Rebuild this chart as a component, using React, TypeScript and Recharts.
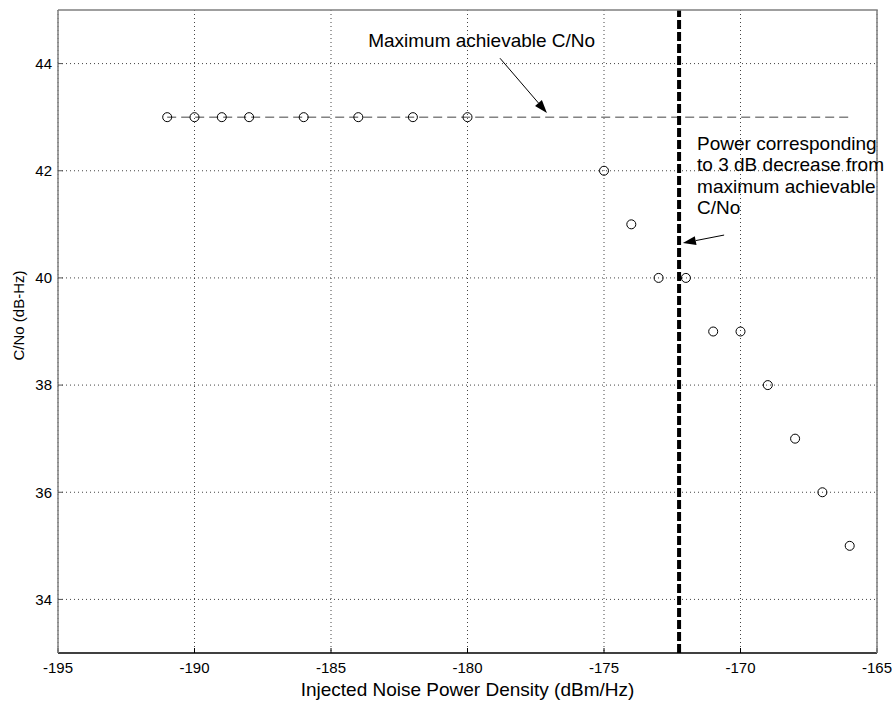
import React from 'react';
import {
  ScatterChart,
  Scatter,
  XAxis,
  YAxis,
  CartesianGrid,
  ReferenceLine,
  ReferenceDot,
} from 'recharts';

// ---------- data ----------
const xTicks = [-195, -190, -185, -180, -175, -170, -165];
const yTicks = [34, 36, 38, 40, 42, 44];
const xDomain = [-195, -165];
const yDomain = [33, 45];

const noiseDensity = [-191, -190, -189, -188, -186, -184, -182, -180, -175, -174, -173, -172, -171, -170, -169, -168, -167, -166];
const cnoValues = [43, 43, 43, 43, 43, 43, 43, 43, 42, 41, 40, 40, 39, 39, 38, 37, 36, 35];

const maxCNo = 43;
const maxLineRange = [-191, -166];
const threeDbPower = -172.25;

const maxLabel = 'Maximum achievable C/No';
const maxLabelPos = { x: -183.64, y: 44.31 };
const maxArrow = [{ x: -178.81, y: 44.1 }, { x: -177.09, y: 43.08 }];

const powerLabelLines = ['Power corresponding', 'to 3 dB decrease from', 'maximum achievable', 'C/No'];
const powerLabelPos = { x: -171.59, y: 42.39 };
const powerArrow = [{ x: -170.6, y: 40.8 }, { x: -172.11, y: 40.65 }];

const xLabel = 'Injected Noise Power Density (dBm/Hz)';
const yLabel = 'C/No (dB-Hz)';

const data = noiseDensity.map((x, i) => ({ x, y: cnoValues[i] }));

// top-left -> top-right -> bottom-right corners of the axes box
const frameCorners = [
  { x: xDomain[0], y: yDomain[1] },
  { x: xDomain[1], y: yDomain[1] },
  { x: xDomain[1], y: yDomain[0] },
];

const FONT = '"Liberation Sans", Arial, Helvetica, sans-serif';
const FRAME = '#808080';

const Circle = (p: any) => (
  <circle cx={p.cx} cy={p.cy} r={4.5} fill="none" stroke="#000" strokeWidth={1} />
);

const Empty = () => <g />;

const Arrow = (p: any) => {
  const { x1, y1, x2, y2 } = p;
  const dx = x2 - x1;
  const dy = y2 - y1;
  const len = Math.sqrt(dx * dx + dy * dy) || 1;
  const ux = dx / len;
  const uy = dy / len;
  const L = 13;
  const W = 4.5;
  const bx = x2 - ux * L;
  const by = y2 - uy * L;
  const pts = `${x2},${y2} ${bx - uy * W},${by + ux * W} ${bx + uy * W},${by - ux * W}`;
  return (
    <g>
      <line x1={x1} y1={y1} x2={bx} y2={by} stroke="#000" strokeWidth={1} />
      <polygon points={pts} fill="#000" />
    </g>
  );
};

export default function App() {
  return (
    <div style={{ position: 'absolute', left: 0, top: 0, background: '#fff' }}>
      <ScatterChart
        width={894}
        height={705}
        margin={{ top: 10, right: 17, bottom: 0, left: 0 }}
        style={{ fontFamily: FONT }}
      >
        <CartesianGrid
          xAxisId="b"
          yAxisId="l"
          stroke="#444"
          strokeDasharray="1 3"
          horizontalValues={yTicks}
          verticalValues={xTicks}
        />
        <XAxis
          xAxisId="b"
          type="number"
          dataKey="x"
          domain={xDomain}
          ticks={xTicks}
          height={52}
          tickSize={-5}
          tickMargin={14}
          axisLine={{ stroke: '#000', strokeWidth: 1.5 }}
          tickLine={{ stroke: '#000' }}
          tick={{ fill: '#000', fontSize: 15, fontFamily: FONT }}
          label={(props: any) => {
            const vb = props.viewBox;
            return (
              <text
                x={vb.x + vb.width / 2}
                y={696}
                textAnchor="middle"
                fontSize={19}
                fontFamily={FONT}
                fill="#000"
              >
                {xLabel}
              </text>
            );
          }}
        />
        <YAxis
          yAxisId="l"
          type="number"
          dataKey="y"
          domain={yDomain}
          ticks={yTicks}
          width={58}
          tickSize={-5}
          tickMargin={11}
          axisLine={{ stroke: FRAME, strokeWidth: 1.5 }}
          tickLine={{ stroke: '#555' }}
          tick={{ fill: '#000', fontSize: 15, fontFamily: FONT }}
          label={(props: any) => {
            const vb = props.viewBox;
            const cx = 24;
            const cy = vb.y + vb.height / 2 - 16;
            return (
              <text
                x={cx}
                y={cy}
                transform={`rotate(-90 ${cx} ${cy})`}
                textAnchor="middle"
                fontSize={15}
                fontFamily={FONT}
                fill="#000"
              >
                {yLabel}
              </text>
            );
          }}
        />
        <Scatter
          xAxisId="b"
          yAxisId="l"
          data={frameCorners}
          line={{ stroke: FRAME, strokeWidth: 1.5 }}
          lineJointType="linear"
          shape={Empty}
          isAnimationActive={false}
        />
        <ReferenceLine
          xAxisId="b"
          yAxisId="l"
          segment={[
            { x: maxLineRange[0], y: maxCNo },
            { x: maxLineRange[1], y: maxCNo },
          ]}
          stroke="#444"
          strokeWidth={1}
          strokeDasharray="9 5"
        />
        <ReferenceLine
          xAxisId="b"
          yAxisId="l"
          x={threeDbPower}
          stroke="#000"
          strokeWidth={4}
          strokeDasharray="9 3"
        />
        <Scatter
          xAxisId="b"
          yAxisId="l"
          data={data}
          shape={Circle}
          isAnimationActive={false}
        />
        <ReferenceLine
          xAxisId="b"
          yAxisId="l"
          segment={maxArrow}
          shape={Arrow}
        />
        <ReferenceLine
          xAxisId="b"
          yAxisId="l"
          segment={powerArrow}
          shape={Arrow}
        />
        <ReferenceDot
          xAxisId="b"
          yAxisId="l"
          x={maxLabelPos.x}
          y={maxLabelPos.y}
          r={0}
          shape={(p: any) => (
            <text x={p.cx} y={p.cy} fontSize={19} fontFamily={FONT} fill="#000">
              {maxLabel}
            </text>
          )}
        />
        <ReferenceDot
          xAxisId="b"
          yAxisId="l"
          x={powerLabelPos.x}
          y={powerLabelPos.y}
          r={0}
          shape={(p: any) => (
            <text x={p.cx} y={p.cy} fontSize={19} fontFamily={FONT} fill="#000">
              {powerLabelLines.map((line, i) => (
                <tspan key={i} x={p.cx} dy={i === 0 ? 0 : 21.5}>
                  {line}
                </tspan>
              ))}
            </text>
          )}
        />
      </ScatterChart>
    </div>
  );
}
